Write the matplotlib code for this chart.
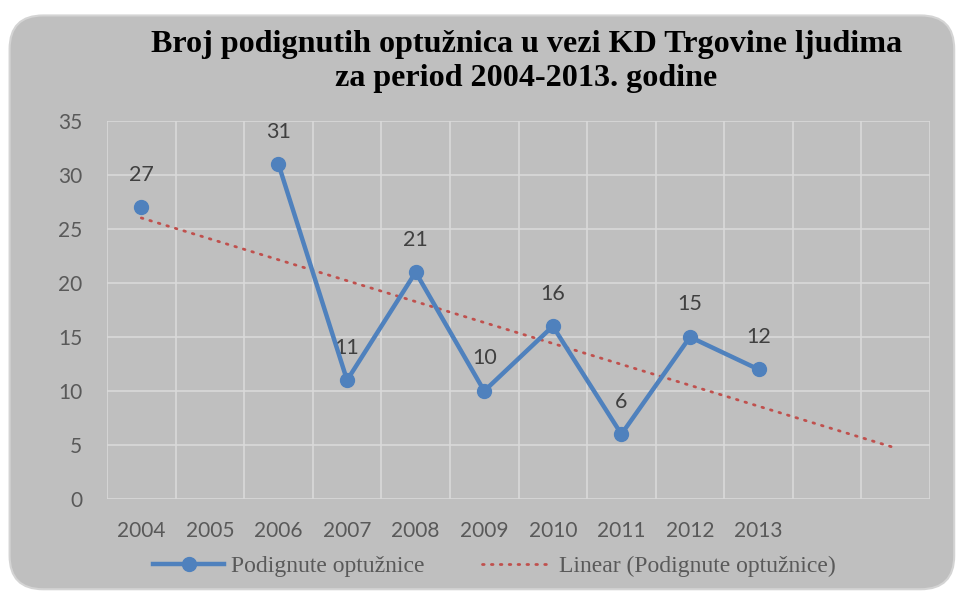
import matplotlib.pyplot as plt
import numpy as np
from matplotlib.patches import FancyBboxPatch

# Podaci
godine = ['2004', '2005', '2006', '2007', '2008', '2009', '2010', '2011', '2012', '2013']
optuznice = [27, np.nan, 31, 11, 21, 10, 16, 6, 15, 12]
prognoza = 2  # trend produzen za dva perioda unaprijed

naslov = 'Broj podignutih optužnica u vezi KD Trgovine ljudima\nza period 2004-2013. godine'
serija = 'Podignute optužnice'
trend_naziv = 'Linear (Podignute optužnice)'

plava = '#4f81bd'
crvena = '#c0504d'
pozadina = '#bfbfbf'
mreza = '#d9d9d9'

fig = plt.figure(figsize=(9.59, 5.94), dpi=100)
fig.patch.set_facecolor('white')

# zaobljeni okvir grafikona
okvir = FancyBboxPatch((0.010, 0.008), 0.985, 0.966,
                       boxstyle='round,pad=0,rounding_size=0.035',
                       transform=fig.transFigure, facecolor=pozadina,
                       edgecolor='#d4d4d4', linewidth=1.5, mutation_aspect=959 / 594,
                       zorder=-10)
fig.patches.append(okvir)

ax = fig.add_axes([0.1116, 0.1599, 0.8582, 0.6364])
ax.set_facecolor(pozadina)

x = np.arange(len(godine))
y = np.array(optuznice, dtype=float)

# linearni trend preko postojecih vrijednosti
ok = ~np.isnan(y)
k, n = np.polyfit(x[ok], y[ok], 1)
xt = np.arange(len(godine) + prognoza)
ax.plot(xt, k * xt + n, color=crvena, linewidth=2, linestyle=(0, (0.6, 2.6)),
        dash_capstyle='round', label=trend_naziv, zorder=3)

ax.plot(x, y, color=plava, linewidth=3.2, marker='o', markersize=10,
        label=serija, zorder=4)

for xi, yi in zip(x, y):
    if np.isnan(yi):
        continue
    ax.annotate(f'{int(yi)}', (xi, yi), xytext=(0, 23.5), textcoords='offset points',
                ha='center', va='center', fontsize=15.5, color='#404040',
                family=['Lato', 'DejaVu Sans'])

n_kat = len(godine) + prognoza
ax.set_xlim(-0.5, n_kat - 0.5)
ax.set_ylim(0, 35)
ax.set_yticks(np.arange(0, 36, 5))
ax.set_xticks(x)
ax.set_xticklabels(godine)
ax.set_xticks(np.arange(-0.5, n_kat, 1), minor=True)

ax.grid(True, which='minor', axis='x', color=mreza, linewidth=1.2)
ax.grid(True, which='major', axis='y', color=mreza, linewidth=1.2)
ax.set_axisbelow(True)
for s in ax.spines.values():
    s.set_visible(False)
ax.tick_params(which='both', length=0)
ax.tick_params(axis='y', pad=18)
ax.tick_params(axis='x', pad=16)
for lbl in ax.get_xticklabels() + ax.get_yticklabels():
    lbl.set_fontfamily(['Lato', 'DejaVu Sans'])
    lbl.set_fontsize(15)
    lbl.set_color('#595959')

fig.text(0.549, 0.896, naslov, ha='center', va='center', fontsize=23.1,
         fontweight='bold', family='Liberation Serif', color='black',
         linespacing=1.22)

h, l = ax.get_legend_handles_labels()
leg = fig.legend(h[::-1], l[::-1], loc='center', bbox_to_anchor=(0.516, 0.047),
                 ncol=2, frameon=False, handlelength=3.0, columnspacing=2.4,
                 handletextpad=0.3,
                 prop={'family': 'Liberation Serif', 'size': 17})
for t in leg.get_texts():
    t.set_color('#595959')

fig.savefig('out.png', dpi=100, facecolor='white')
